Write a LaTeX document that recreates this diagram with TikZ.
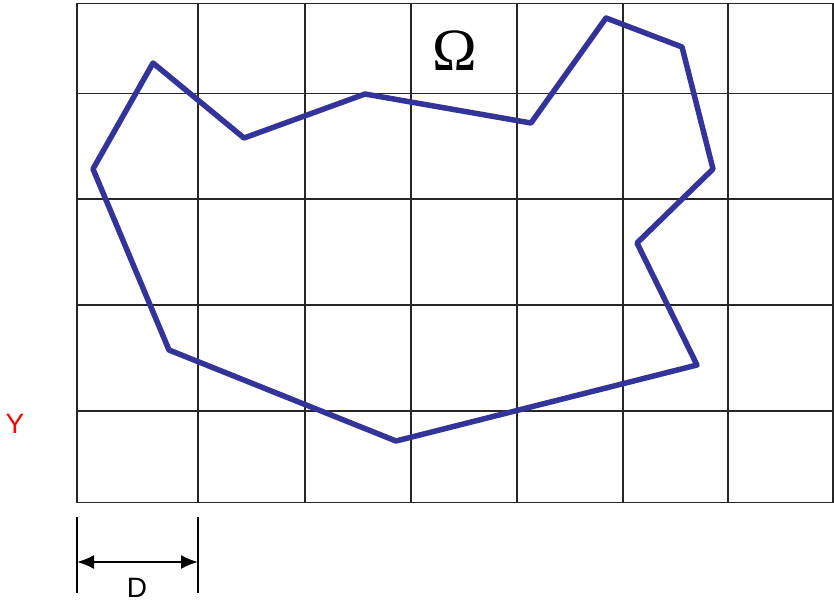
\documentclass[tikz,border=0pt]{standalone}
\usepackage{fontspec}
\setsansfont{Liberation Sans}
\newfontfamily\omegafont{Liberation Serif}
\usepackage{tikz}
\usepackage{xcolor}
\usetikzlibrary{arrows.meta, positioning, calc}
\definecolor{randblau}{RGB}{51,51,153}

\begin{document}
\begin{tikzpicture}[x=1pt, y=-1pt, line join=round]
    \useasboundingbox (0,0) rectangle (834,602);
    % Gitter
    \foreach \gx in {77,198,305,411,517,623,728,833}
      \draw[line width=1.5pt, black!85] (\gx,3.5) -- (\gx,502.5);
    \foreach \gy in {3.5,93.5,199,305,411,502.5}
      \draw[line width=1.5pt, black!85] (77,\gy) -- (833,\gy);
    % Eckpunkte des Gebiets
    \coordinate (P1) at (153,63);
    \coordinate (P2) at (244,138);
    \coordinate (P3) at (365,94);
    \coordinate (P4) at (531,123);
    \coordinate (P5) at (606,18);
    \coordinate (P6) at (682,47);
    \coordinate (P7) at (713,169);
    \coordinate (P8) at (637,243);
    \coordinate (P9) at (697,365);
    \coordinate (P10) at (396,441);
    \coordinate (P11) at (169,350);
    \coordinate (P12) at (93,169);
    \draw[line width=5.5pt, randblau] (P1)--(P2)--(P3)--(P4)--(P5)--(P6)--(P7)--(P8)--(P9)--(P10)--(P11)--(P12)--cycle;
    % Beschriftungen
    \node[font=\omegafont\fontsize{60}{64}\selectfont] (omega) at (455,51) {Ω};
    \node[font=\sffamily\fontsize{28}{32}\selectfont, red] (ylab) at (15,424) {Y};
    % Masspfeil D
    \coordinate (DL) at (77,517);
    \coordinate (DR) at (198,517);
    \draw[line width=1.8pt] (DL) -- ++(0,76);
    \draw[line width=1.8pt] (DR) -- ++(0,76);
    \draw[line width=2pt, {Latex[length=17pt,width=14pt]}-{Latex[length=17pt,width=14pt]}] ($(DL)+(0,45)$) -- ($(DR)+(0,45)$);
    \node[font=\sffamily\fontsize{28}{32}\selectfont, inner sep=1pt] (dlab) at (137,588) {D};
  \end{tikzpicture}
\end{document}
